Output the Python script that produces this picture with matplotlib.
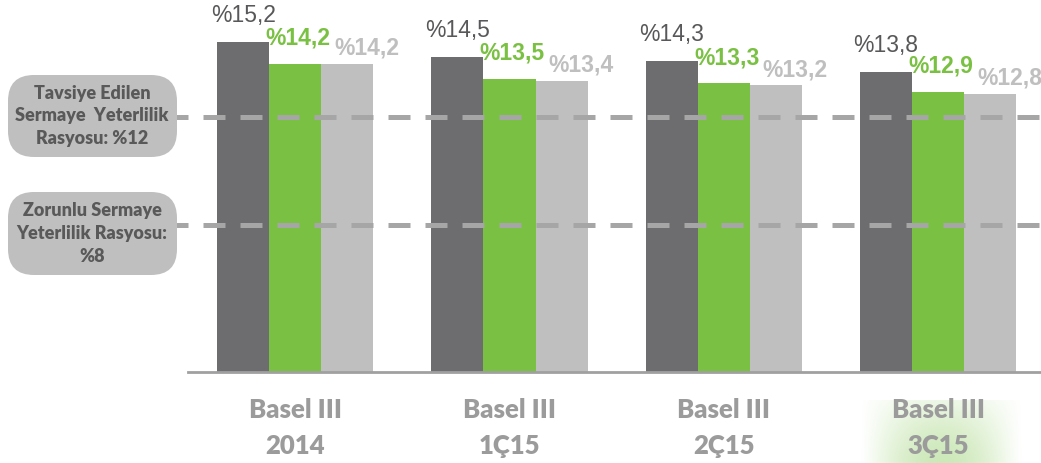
import numpy as np
import matplotlib
matplotlib.use('Agg')
import matplotlib.pyplot as plt
from matplotlib.patches import FancyBboxPatch
from matplotlib.transforms import blended_transform_factory

# data
categories = ['Basel III\n2014', 'Basel III\n1Ç15', 'Basel III\n2Ç15', 'Basel III\n3Ç15']
series_a = [15.2, 14.5, 14.3, 13.8]   # dark grey
series_b = [14.2, 13.5, 13.3, 12.9]   # green
series_c = [14.2, 13.4, 13.2, 12.8]   # light grey
ref_values = [11.75, 6.77]            # dashed lines, as drawn in the picture
ref_labels = ['Tavsiye Edilen\nSermaye  Yeterlilik\nRasyosu: %12',
              'Zorunlu Sermaye\nYeterlilik Rasyosu:\n%8']

DARK = '#6d6d6f'
GREEN = '#7ac143'
LIGHT = '#bfbfbf'

W, H = 1041, 463
fig = plt.figure(figsize=(W / 100, H / 100), dpi=100)
ax = fig.add_axes([188 / W, (H - 372) / H, 1 - 188 / W, 372 / H])
ax.set_facecolor('none')

x = np.arange(len(categories))
bw = 0.243
series = [(series_a, DARK, -bw), (series_b, GREEN, 0), (series_c, LIGHT, bw)]
for vals, col, off in series:
    ax.bar(x + off, vals, bw, color=col, zorder=2)

# value labels (hand placed in the original, offsets in points)
lab_style = [
    dict(color='#58585a', fontweight='normal', dx=0, dy=11),
    dict(color=GREEN, fontweight='bold', dx=2, dy=10),
    dict(color=LIGHT, fontweight='bold', dx=14, dy=3),
]
for (vals, col, off), st in zip(series, lab_style):
    for xi, v in zip(x, vals):
        ax.annotate('%' + f'{v:.1f}'.replace('.', ','), (xi + off, v),
                    xytext=(st['dx'], st['dy']), textcoords='offset points',
                    ha='center', va='bottom', fontsize=16.5,
                    family='Liberation Sans', color=st['color'],
                    fontweight=st['fontweight'], zorder=4)

ax.set_xlim(-0.5, 3.48)
ax.set_ylim(0, 17.13)
ax.set_yticks([])
for s in ['top', 'right', 'left']:
    ax.spines[s].set_visible(False)
ax.spines['bottom'].set_color('#a0a0a0')
ax.spines['bottom'].set_linewidth(2)

ax.set_xticks(x)
ax.set_xticklabels(categories, fontsize=18.5, fontweight='heavy', family='Lato',
                   color='#9b9b9b', linespacing=1.6)
ax.tick_params(axis='x', length=0, pad=19)

# reference lines + boxes
tr = blended_transform_factory(fig.transFigure, ax.transData)
box_y = [(75, 157), (192, 275)]
for val, lab, (y0, y1) in zip(ref_values, ref_labels, box_y):
    ln, = ax.plot([166 / W, 1.0], [val, val], transform=tr, color='#a6a6a6',
                  lw=3.6, clip_on=False, zorder=3)
    ln.set_dashes((4.4, 3.0))
    box = FancyBboxPatch((8 / W, (H - y1) / H), 169 / W, (y1 - y0) / H,
                         boxstyle='round,pad=0,rounding_size=0.025',
                         transform=fig.transFigure, facecolor='#bfbfbf',
                         edgecolor='none', zorder=5, mutation_aspect=W / H)
    fig.patches.append(box)
    fig.text(92 / W, (H - (y0 + y1) / 2) / H, lab, ha='center', va='center',
             fontsize=13, fontweight='heavy', family='Lato', color='#595959',
             linespacing=1.4, zorder=6)

# green glow behind the last category label
gax = fig.add_axes([860 / W, 0, 163 / W, 63 / H], zorder=-1)
gx = np.linspace(-1, 1, 200)
gy = np.linspace(0, 1, 80)          # 0 = bottom, 1 = top
fx = np.clip(1 - gx ** 2, 0, 1) ** 1.3
fy = 1 - 0.65 * gy ** 1.5
img = np.zeros((80, 200, 4))
img[..., :3] = matplotlib.colors.to_rgb('#8fcc63')
img[..., 3] = 0.45 * np.outer(fy, fx)
gax.imshow(img, aspect='auto', extent=(0, 1, 0, 1), origin='lower')
gax.axis('off')

fig.savefig('out.png', dpi=100)
